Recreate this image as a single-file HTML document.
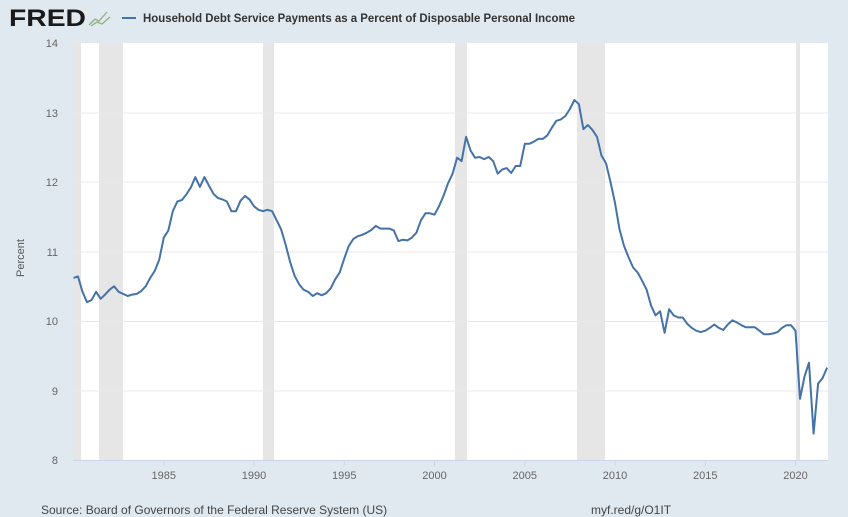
<!DOCTYPE html>
<html><head><meta charset="utf-8"><style>
body{margin:0;background:#e1e9f0;}
svg{display:block;font-family:"Liberation Sans",sans-serif;}
</style></head><body>
<svg id="s" width="848" height="517" xmlns="http://www.w3.org/2000/svg">
<rect width="848" height="517" fill="#e1e9f0"/>
<text x="9" y="26" font-size="24" font-weight="bold" fill="#1a1a1a" textLength="77" lengthAdjust="spacingAndGlyphs">FRED</text>
<path d="M89 25 L95 19 L99 21 L107 12 M91 26 L97 22 L102 24 L110 17" stroke="#8ab17d" stroke-width="1.3" fill="none"/>
<line x1="122" y1="18" x2="136" y2="18" stroke="#4572a7" stroke-width="2"/>
<text x="143" y="22" font-size="12" font-weight="bold" fill="#333" textLength="432" lengthAdjust="spacingAndGlyphs">Household Debt Service Payments as a Percent of Disposable Personal Income</text>
<rect x="73" y="43" width="755" height="417" fill="#ffffff"/>
<g fill="#e6e6e6">
<rect x="73" y="43" width="8" height="417"/>
<rect x="99" y="43" width="24" height="417"/>
<rect x="263" y="43" width="11" height="417"/>
<rect x="455" y="43" width="12" height="417"/>
<rect x="577" y="43" width="28" height="417"/>
<rect x="796" y="43" width="4" height="417"/>
</g>
<g stroke="#e8e8e8" stroke-width="1">
<line x1="73" x2="828" y1="113" y2="113"/><line x1="73" x2="828" y1="182" y2="182"/>
<line x1="73" x2="828" y1="252" y2="252"/><line x1="73" x2="828" y1="321.5" y2="321.5"/>
<line x1="73" x2="828" y1="391" y2="391"/>
</g>
<line x1="73" x2="828" y1="460.5" y2="460.5" stroke="#ccd6eb"/>
<g font-size="11" fill="#666" text-anchor="end">
<text x="58" y="47">14</text><text x="58" y="117">13</text><text x="58" y="186">12</text>
<text x="58" y="256">11</text><text x="58" y="325">10</text><text x="58" y="395">9</text><text x="58" y="464">8</text>
</g>
<g font-size="11" fill="#666" text-anchor="middle" id="xt"></g>
<text transform="translate(24,258) rotate(-90)" font-size="11" fill="#555" text-anchor="middle">Percent</text>
<text x="41" y="514" font-size="12" fill="#444">Source: Board of Governors of the Federal Reserve System (US)</text>
<text x="591" y="514" font-size="12" fill="#444">myf.red/g/O1IT</text>
<polyline id="ln" fill="none" stroke="#4572a7" stroke-width="2" stroke-linejoin="round"/>
</svg>
<script>
var v=[10.62,10.64,10.42,10.27,10.30,10.42,10.32,10.38,10.45,10.50,10.42,10.39,10.36,10.38,10.39,10.43,10.50,10.62,10.72,10.88,11.20,11.30,11.58,11.72,11.74,11.82,11.92,12.07,11.93,12.07,11.95,11.83,11.77,11.75,11.72,11.58,11.58,11.73,11.80,11.75,11.65,11.60,11.58,11.60,11.58,11.45,11.32,11.10,10.85,10.65,10.53,10.45,10.42,10.36,10.40,10.37,10.40,10.47,10.60,10.70,10.90,11.08,11.18,11.22,11.24,11.27,11.31,11.37,11.33,11.33,11.33,11.30,11.15,11.17,11.16,11.20,11.27,11.45,11.55,11.55,11.53,11.65,11.80,11.98,12.12,12.35,12.30,12.65,12.45,12.35,12.36,12.33,12.36,12.30,12.12,12.18,12.20,12.13,12.23,12.23,12.55,12.55,12.58,12.62,12.62,12.67,12.78,12.88,12.90,12.95,13.05,13.18,13.12,12.76,12.82,12.75,12.65,12.38,12.27,12.00,11.70,11.32,11.08,10.92,10.77,10.70,10.58,10.45,10.22,10.08,10.14,9.83,10.17,10.08,10.05,10.05,9.96,9.90,9.86,9.84,9.86,9.90,9.95,9.90,9.87,9.95,10.01,9.98,9.94,9.91,9.91,9.91,9.86,9.81,9.81,9.82,9.84,9.90,9.94,9.94,9.86,8.88,9.20,9.40,8.38,9.10,9.18,9.33];
function X(t){return 73.5+(t-1980)*18.05;}
var p=[];for(var i=0;i<v.length;i++){p.push(X(1980+i/4).toFixed(1)+","+(43+(14-v[i])*69.5).toFixed(1));}
document.getElementById("ln").setAttribute("points",p.join(" "));
var g=document.getElementById("xt"),s="";
for(var y=1985;y<=2020;y+=5){var x=X(y).toFixed(1);s+='<line x1="'+x+'" x2="'+x+'" y1="460" y2="466" stroke="#ccd6eb"/><text x="'+x+'" y="479">'+y+'</text>';}
g.innerHTML=s;
</script>
</body></html>
